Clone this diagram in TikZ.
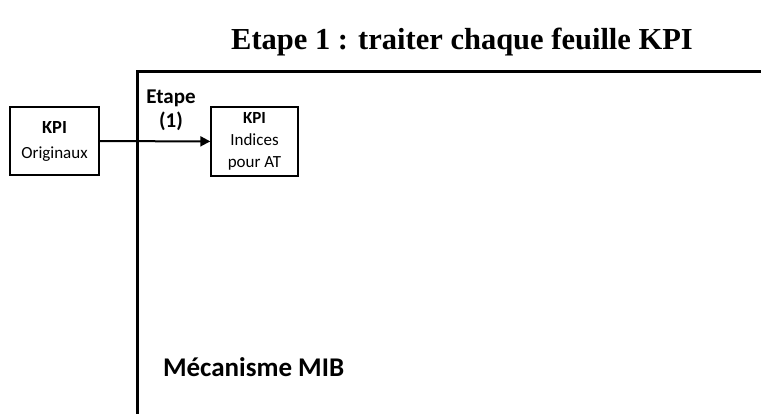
\documentclass[tikz,border=0pt]{standalone}
\usepackage{fontspec}
\setmainfont{Carlito}
\newfontfamily\titlefont{Liberation Serif}
\usetikzlibrary{arrows.meta}

\begin{document}
\begin{tikzpicture}[x=1pt,y=-1pt,line width=1.4pt,
  kpibox/.style={draw,minimum width=89pt,minimum height=68pt,inner sep=0pt,align=center,font=\fontsize{17}{22}\selectfont},
  fleche/.style={line width=2pt,-{Triangle[length=10pt,width=10pt]}}]
\useasboundingbox (0,0) rectangle (761,414);
\node[anchor=base] (titre) at (462,50) {\titlefont\bfseries\fontsize{30.5}{34}\selectfont Etape 1 : traiter chaque feuille KPI};
% cadre du mecanisme
\draw[line width=3pt,line join=miter] (770,72)--(137,72)--(137,420);
\node[kpibox] (orig) at (54.5,141) {\textbf{\fontsize{18.5}{22}\selectfont KPI}\\[3pt]Originaux};
\node[kpibox,minimum width=87pt,minimum height=69pt] (indices) at (254.5,141.5) {\textbf{KPI}\\Indices\\pour AT};
\draw[fleche] (orig) -- (indices);
\node[align=center,font=\bfseries\fontsize{21}{24}\selectfont] (etape) at (171,110) {Etape\\(1)};
\node[anchor=base west,font=\bfseries\fontsize{27}{32}\selectfont] (meca) at (159,376) {Mécanisme MIB};
\end{tikzpicture}
\end{document}
